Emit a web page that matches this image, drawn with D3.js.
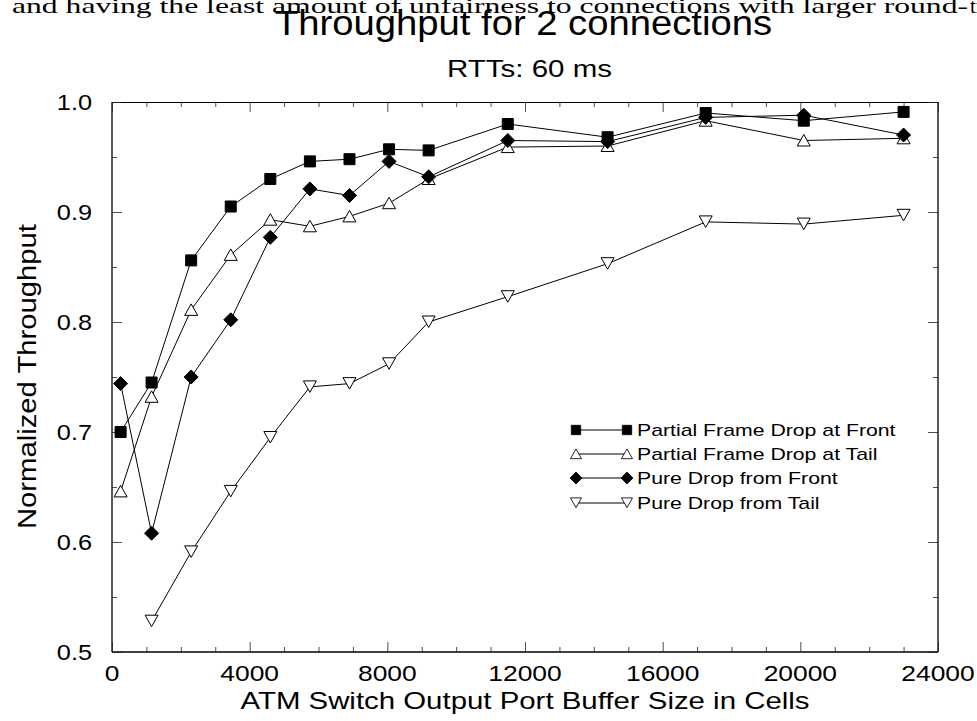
<!DOCTYPE html>
<html>
<head>
<meta charset="utf-8">
<script src="https://cdn.jsdelivr.net/npm/d3@7"></script>
<style>
  body { margin: 0; background: #fff; }
  svg { display: block; }
  text { font-family: "Liberation Sans", Arial, sans-serif; fill: #000; }
</style>
</head>
<body>
<svg id="chart"></svg>
<script>
// buffer sizes (cells)
let bufSizes = [250, 1150, 2300, 3450, 4600, 5750, 6900, 8050, 9200, 11500, 14400, 17250, 20100, 23000];
let bufSizesTail = [1150, 2300, 3450, 4600, 5750, 6900, 8050, 9200, 11500, 14400, 17250, 20100, 23000];

let partialFront = [0.700, 0.745, 0.856, 0.905, 0.930, 0.946, 0.948, 0.957, 0.956, 0.980, 0.968, 0.990, 0.983, 0.991];
let partialTail  = [0.646, 0.732, 0.811, 0.861, 0.893, 0.887, 0.896, 0.908, 0.930, 0.959, 0.960, 0.983, 0.965, 0.967];
let pureFront    = [0.744, 0.608, 0.750, 0.802, 0.877, 0.921, 0.915, 0.946, 0.932, 0.965, 0.964, 0.986, 0.988, 0.970];
let pureTail     = [0.528, 0.591, 0.646, 0.695, 0.741, 0.744, 0.762, 0.800, 0.823, 0.853, 0.891, 0.889, 0.897];

let seriesNames = ["Partial Frame Drop at Front", "Partial Frame Drop at Tail", "Pure Drop from Front", "Pure Drop from Tail"];
let xTickVals = [0, 4000, 8000, 12000, 16000, 20000, 24000];
let yTickVals = [0.5, 0.6, 0.7, 0.8, 0.9, 1.0];

let width = 977, height = 721;
let svg = d3.select("#chart").attr("width", width).attr("height", height);

let left = 112, right = 938, top_sp = 102, bottom = 652;

let xax = d3.scaleLinear().domain([0, 24000]).range([left, right]);
let yax = d3.scaleLinear().domain([0.5, 1.0]).range([bottom, top_sp]);

// stretch a text horizontally to a given width (the original figure is wide)
function stretch(sel, w) {
  sel.attr("textLength", w).attr("lengthAdjust", "spacingAndGlyphs");
}

// caption line from the paper, cut at the top
svg.append("text")
  .text("and having the least amount of unfairness to connections with larger round-")
  .attr("x", 12).attr("y", 13)
  .style("font-family", "'Liberation Serif', 'DejaVu Serif', serif")
  .attr("font-size", 21)
  .call(stretch, 956);
svg.append("text")
  .text("trip")
  .attr("x", 970).attr("y", 13)
  .style("font-family", "'Liberation Serif', 'DejaVu Serif', serif")
  .attr("font-size", 21);

svg.append("text")
  .text("Throughput for 2 connections")
  .attr("x", 275).attr("y", 35)
  .attr("font-size", 35)
  .call(stretch, 497);

svg.append("text")
  .text("RTTs: 60 ms")
  .attr("x", 447).attr("y", 77)
  .attr("font-size", 24)
  .call(stretch, 165);

// frame
svg.append("line").attr("x1", left).attr("x2", right).attr("y1", top_sp + 0.5).attr("y2", top_sp + 0.5)
  .attr("stroke", "black").attr("stroke-width", 1);
svg.append("line").attr("x1", left).attr("x2", left).attr("y1", top_sp).attr("y2", bottom)
  .attr("stroke", "black").attr("stroke-width", 1.3);
svg.append("line").attr("x1", right).attr("x2", right).attr("y1", top_sp).attr("y2", bottom)
  .attr("stroke", "black").attr("stroke-width", 1.3);
svg.append("line").attr("x1", left).attr("x2", right).attr("y1", bottom).attr("y2", bottom)
  .attr("stroke", "black").attr("stroke-width", 1.3);

// ticks (all pointing inward)
let xMinor = d3.range(0, 24001, 1000);
let yMinor = d3.range(0.5, 1.0001, 0.05);

function tickMarks(g, axisFn, vals, size) {
  g.call(axisFn.tickValues(vals).tickSizeInner(size).tickSizeOuter(0).tickFormat(""));
  g.select(".domain").remove();
  g.selectAll(".tick line").attr("stroke", "#222").attr("stroke-width", 0.8);
}

svg.append("g").attr("transform", `translate(0, ${bottom})`)
  .call(tickMarks, d3.axisBottom(xax), xMinor.filter(d => d % 4000 != 0), -5);
svg.append("g").attr("transform", `translate(0, ${bottom})`)
  .call(tickMarks, d3.axisBottom(xax), xTickVals, -10);
svg.append("g").attr("transform", `translate(0, ${top_sp})`)
  .call(tickMarks, d3.axisTop(xax), xMinor.filter(d => d % 4000 != 0), -5);
svg.append("g").attr("transform", `translate(0, ${top_sp})`)
  .call(tickMarks, d3.axisTop(xax), xTickVals, -10);

let yMin = yMinor.filter((d, i) => i % 2 == 1);
svg.append("g").attr("transform", `translate(${left}, 0)`)
  .call(tickMarks, d3.axisLeft(yax), yMin, -5);
svg.append("g").attr("transform", `translate(${left}, 0)`)
  .call(tickMarks, d3.axisLeft(yax), yTickVals, -10);
svg.append("g").attr("transform", `translate(${right}, 0)`)
  .call(tickMarks, d3.axisRight(yax), yMin, -5);
svg.append("g").attr("transform", `translate(${right}, 0)`)
  .call(tickMarks, d3.axisRight(yax), yTickVals, -10);

// tick labels
svg.append("g").selectAll("text")
  .data(xTickVals)
  .join("text")
  .attr("transform", d => `translate(${xax(d)}, 681) scale(1.2, 1)`)
  .attr("text-anchor", "middle")
  .attr("font-size", 22)
  .text(d => d);

svg.append("g").selectAll("text")
  .data(yTickVals)
  .join("text")
  .attr("transform", d => `translate(92, ${yax(d) + 8}) scale(1.15, 1)`)
  .attr("text-anchor", "end")
  .attr("font-size", 22)
  .text(d => d.toFixed(1));

// axis titles
svg.append("text")
  .text("ATM Switch Output Port Buffer Size in Cells")
  .attr("x", 525 - 569 / 2).attr("y", 709)
  .attr("font-size", 24)
  .call(stretch, 569);

svg.append("text")
  .text("Normalized Throughput")
  .attr("transform", `translate(36, ${(top_sp + bottom) / 2 + 152}) rotate(-90)`)
  .attr("font-size", 26)
  .call(stretch, 305);

// markers
function markerPath(kind) {
  if (kind == "square") return "M-5.5,-5.5H5.5V5.5H-5.5Z";
  if (kind == "diamond") return "M0,-7L7,0L0,7L-7,0Z";
  if (kind == "up") return "M0,-6L6.5,5.5H-6.5Z";
  return "M0,5.5L6.5,-6H-6.5Z";
}

let series = [
  {name: seriesNames[0], xs: bufSizes, ys: partialFront, kind: "square", fill: "black"},
  {name: seriesNames[1], xs: bufSizes, ys: partialTail, kind: "up", fill: "white"},
  {name: seriesNames[2], xs: bufSizes, ys: pureFront, kind: "diamond", fill: "black"},
  {name: seriesNames[3], xs: bufSizesTail, ys: pureTail, kind: "down", fill: "white"}
];

let plotline = d3.line().x(d => xax(d[0])).y(d => yax(d[1]));

series.forEach(s => {
  let pts = s.xs.map((x, i) => [x, s.ys[i]]);
  svg.append("path")
    .attr("d", plotline(pts))
    .attr("fill", "none")
    .attr("stroke", "black")
    .attr("stroke-width", 1);
});
series.forEach(s => {
  let pts = s.xs.map((x, i) => [x, s.ys[i]]);
  svg.append("g").selectAll("path")
    .data(pts)
    .join("path")
    .attr("d", markerPath(s.kind))
    .attr("transform", d => `translate(${xax(d[0])}, ${yax(d[1])})`)
    .attr("fill", s.fill)
    .attr("stroke", "black")
    .attr("stroke-width", 1);
});

// legend
let legRows = [430, 454, 478, 503];
let legend = svg.append("g");
series.forEach((s, i) => {
  let y = legRows[i];
  legend.append("line").attr("x1", 576).attr("x2", 627).attr("y1", y).attr("y2", y)
    .attr("stroke", "black").attr("stroke-width", 1);
  [576, 627].forEach(x => {
    legend.append("path")
      .attr("d", markerPath(s.kind))
      .attr("transform", `translate(${x}, ${y}) scale(0.85)`)
      .attr("fill", s.fill).attr("stroke", "black").attr("stroke-width", 1);
  });
  legend.append("text")
    .text(s.name)
    .attr("transform", `translate(637, ${y + 6}) scale(1.25, 1)`)
    .attr("font-size", 17);
});
</script>
</body>
</html>
